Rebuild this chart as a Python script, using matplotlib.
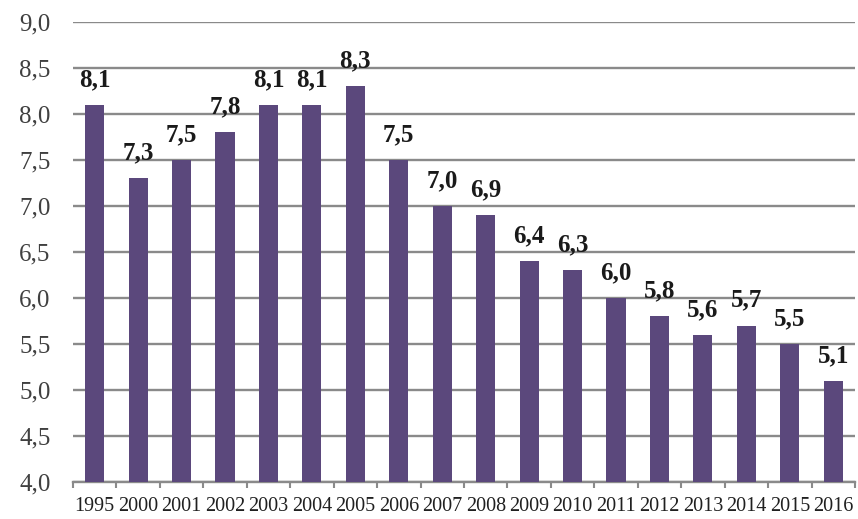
import numpy as np
import matplotlib.pyplot as plt
from matplotlib.ticker import FuncFormatter, FixedLocator

years = ['1995', '2000', '2001', '2002', '2003', '2004', '2005', '2006', '2007',
         '2008', '2009', '2010', '2011', '2012', '2013', '2014', '2015', '2016']
values = [8.1, 7.3, 7.5, 7.8, 8.1, 8.1, 8.3, 7.5, 7.0,
          6.9, 6.4, 6.3, 6.0, 5.8, 5.6, 5.7, 5.5, 5.1]

plt.rcParams['font.family'] = ['Liberation Serif', 'DejaVu Serif']

fig = plt.figure(figsize=(8.58, 5.19), dpi=100)
ax = fig.add_axes([0.085, 0.0713, 0.9115, 0.8863])

x = np.arange(len(years))
ax.bar(x, values, width=0.44, color='#5b487c', zorder=3)

ax.set_ylim(4.0, 9.0)
ax.set_xlim(-0.5, len(years) - 0.5)
ax.set_yticks(np.arange(4.0, 9.01, 0.5))
ax.yaxis.set_major_formatter(FuncFormatter(lambda v, p: f'{v:.1f}'.replace('.', ',')))
ax.grid(axis='y', color='#8a8a8a', linewidth=1.7, zorder=0)
ax.tick_params(axis='y', length=0, pad=16, labelsize=18, labelcolor='#404040')

ax.set_xticks(x)
ax.set_xticklabels(years)
ax.tick_params(axis='x', which='major', length=0, pad=11, labelsize=14.5, labelcolor='#202020')
ax.xaxis.set_minor_locator(FixedLocator(np.arange(-0.5, len(years), 1.0)))
ax.tick_params(axis='x', which='minor', length=4, width=1.5, color='#8a8a8a', direction='out')

for s in ['top', 'right', 'left']:
    ax.spines[s].set_visible(False)
ax.spines['bottom'].set_color('#8a8a8a')
ax.spines['bottom'].set_linewidth(1.7)

for xi, v in zip(x, values):
    ax.annotate(f'{v:.1f}'.replace('.', ','), (xi, v), xytext=(0, 10), textcoords='offset points',
                ha='center', va='bottom', fontsize=18, fontweight='bold', color='#1a1a1a')

fig.savefig('out.png', dpi=100)
